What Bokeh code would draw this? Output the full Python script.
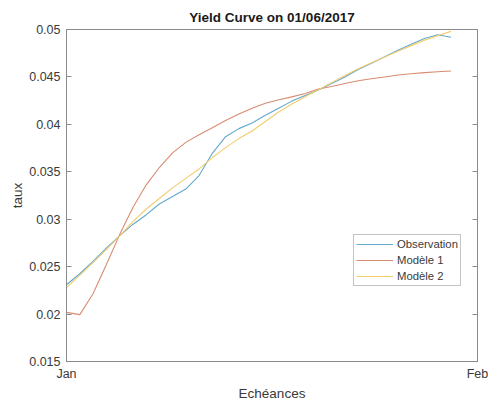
from bokeh.plotting import figure
from bokeh.models import (Range1d, FixedTicker, LinearAxis, Legend, LegendItem)
from bokeh.embed import file_html
from bokeh.resources import INLINE

# Maturities (one step per point), observed yields and the two fitted models
days = list(range(30))
observation = [0.02309, 0.02425, 0.02555, 0.02695, 0.02824, 0.02945, 0.03045, 0.03160,
               0.03240, 0.03318, 0.03460, 0.03695, 0.03870, 0.03955, 0.04015, 0.04095,
               0.04170, 0.04245, 0.04305, 0.04362, 0.04430, 0.04500, 0.04578, 0.04645,
               0.04712, 0.04780, 0.04845, 0.04905, 0.04945, 0.04918]
modele_1 = [0.02018, 0.01994, 0.02215, 0.02520, 0.02835, 0.03120, 0.03360, 0.03545,
            0.03700, 0.03810, 0.03890, 0.03965, 0.04040, 0.04110, 0.04170, 0.04222,
            0.04260, 0.04290, 0.04325, 0.04372, 0.04400, 0.04430, 0.04460, 0.04480,
            0.04500, 0.04520, 0.04534, 0.04545, 0.04555, 0.04562]
modele_2 = [0.02278, 0.02408, 0.02543, 0.02680, 0.02822, 0.02975, 0.03105, 0.03218,
            0.03330, 0.03430, 0.03530, 0.03650, 0.03755, 0.03850, 0.03930, 0.04030,
            0.04130, 0.04215, 0.04290, 0.04365, 0.04440, 0.04515, 0.04585, 0.04650,
            0.04710, 0.04770, 0.04830, 0.04888, 0.04935, 0.04980]
series_names = ["Observation", "Modèle 1", "Modèle 2"]

x_ticks = [0, 31]
x_tick_labels = ["Jan", "Feb"]
y_ticks = [0.015, 0.02, 0.025, 0.03, 0.035, 0.04, 0.045, 0.05]
y_tick_labels = ["0.015", "0.02", "0.025", "0.03", "0.035", "0.04", "0.045", "0.05"]

FONT = "Liberation Sans"
AXIS_GREY = "#8a8a8a"
TEXT_GREY = "#3a3a3a"
colors = ["#62a9cc", "#d98c70", "#f2cd6c"]

p = figure(width=488, height=403, output_backend="svg", toolbar_location=None,
           x_range=Range1d(x_ticks[0], x_ticks[-1]),
           y_range=Range1d(y_ticks[0], y_ticks[-1]),
           min_border_left=66, min_border_right=11,
           min_border_top=29, min_border_bottom=41,
           title="Yield Curve on 01/06/2017",
           x_axis_label="Echéances", y_axis_label="taux")

p.background_fill_color = "white"
p.border_fill_color = "white"
p.outline_line_color = AXIS_GREY
p.outline_line_width = 1
p.xgrid.visible = False
p.ygrid.visible = False

p.title.align = "center"
p.title.text_font = FONT
p.title.text_font_size = "13.5px"
p.title.text_font_style = "bold"
p.title.text_color = "#1a1a1a"

# Bottom axis: only the two month labels at the ends
xa = p.xaxis[0]
xa.ticker = FixedTicker(ticks=x_ticks)
xa.major_label_overrides = dict(zip(x_ticks, x_tick_labels))

ya = p.yaxis[0]
ya.ticker = FixedTicker(ticks=y_ticks)
ya.major_label_overrides = dict(zip(y_ticks, y_tick_labels))

for ax in (xa, ya):
    ax.axis_line_color = AXIS_GREY
    ax.major_tick_line_color = AXIS_GREY
    ax.major_tick_in = 5
    ax.major_tick_out = 0
    ax.minor_tick_line_color = None
    ax.major_label_text_font = FONT
    ax.major_label_text_font_size = "12.5px"
    ax.major_label_text_color = TEXT_GREY
    ax.axis_label_text_font = FONT
    ax.axis_label_text_font_size = "13.5px"
    ax.axis_label_text_font_style = "normal"
    ax.axis_label_text_color = TEXT_GREY
    ax.major_label_standoff = 6

xa.major_label_text_line_height = 1.0
xa.axis_label_text_line_height = 1.0
xa.major_label_standoff = 5
xa.axis_label_standoff = 2
ya.axis_label_standoff = 1

# Right-hand box side with inward ticks, no labels
ra = LinearAxis(ticker=FixedTicker(ticks=y_ticks))
ra.axis_line_color = AXIS_GREY
ra.major_tick_line_color = AXIS_GREY
ra.major_tick_in = 5
ra.major_tick_out = 0
ra.minor_tick_line_color = None
ra.major_label_overrides = {t: "" for t in y_ticks}
ra.major_label_standoff = 0
p.add_layout(ra, "right")

renderers = []
for vals, col in zip([observation, modele_1, modele_2], colors):
    r = p.line(days, vals, line_color=col, line_width=1.1)
    renderers.append(r)

legend = Legend(items=[LegendItem(label=n, renderers=[r]) for n, r in zip(series_names, renderers)],
                location=(287, 75))
legend.label_text_font = FONT
legend.label_text_font_size = "11.3px"
legend.label_text_color = TEXT_GREY
legend.glyph_width = 37
legend.glyph_height = 14
legend.label_height = 14
legend.label_standoff = 4
legend.spacing = 2
legend.padding = 2
legend.margin = 0
legend.border_line_color = AXIS_GREY
legend.border_line_width = 1
legend.background_fill_color = "white"
legend.background_fill_alpha = 1
p.add_layout(legend)

open("out.html", "w").write(file_html(p, INLINE))
